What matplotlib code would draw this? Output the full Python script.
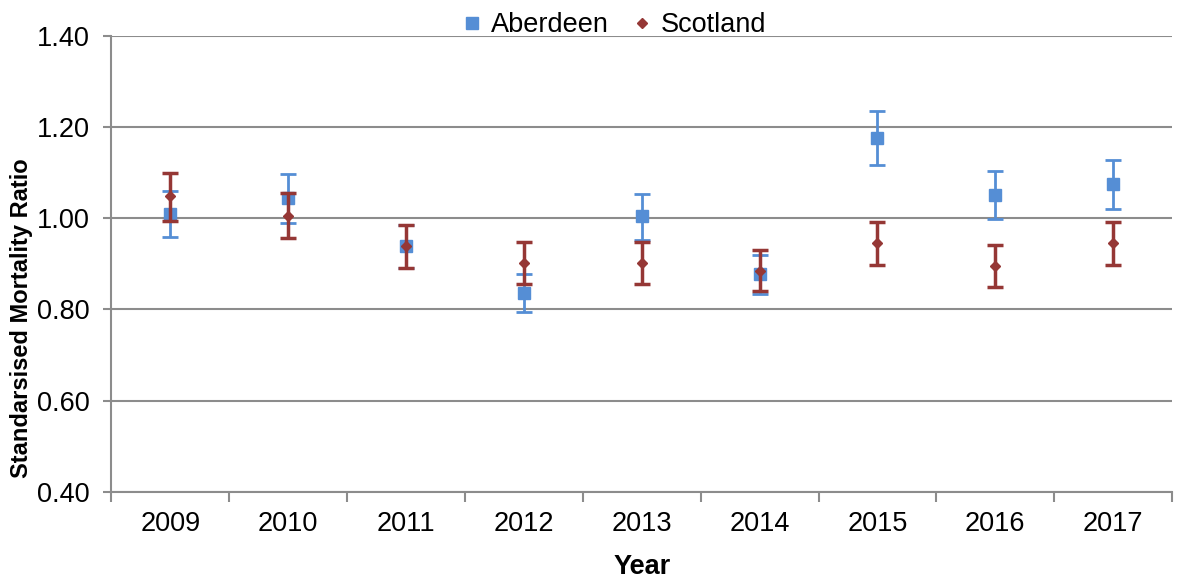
import numpy as np
import matplotlib
matplotlib.use("Agg")
import matplotlib.pyplot as plt

plt.rcParams['font.family'] = ['Liberation Sans', 'DejaVu Sans']

# data
years = ['2009', '2010', '2011', '2012', '2013', '2014', '2015', '2016', '2017']
aberdeen = [1.01, 1.045, 0.94, 0.837, 1.005, 0.878, 1.176, 1.051, 1.075]
aberdeen_low = [0.96, 0.99, 0.892, 0.794, 0.953, 0.833, 1.117, 0.998, 1.021]
aberdeen_high = [1.06, 1.097, 0.986, 0.878, 1.054, 0.92, 1.235, 1.104, 1.127]
scotland = [1.048, 1.005, 0.94, 0.902, 0.903, 0.884, 0.945, 0.896, 0.945]
scotland_low = [0.995, 0.956, 0.892, 0.856, 0.857, 0.84, 0.898, 0.85, 0.898]
scotland_high = [1.10, 1.056, 0.986, 0.948, 0.948, 0.93, 0.993, 0.941, 0.993]

blue = '#558ed5'
red = '#953735'
grid_col = '#8c8c8c'

fig = plt.figure(figsize=(11.84, 5.8), dpi=100)
ax = fig.add_axes([0.094, 0.152, 0.896, 0.786])

x = np.arange(len(years))
ab = np.array(aberdeen)
sc = np.array(scotland)
ab_err = [ab - np.array(aberdeen_low), np.array(aberdeen_high) - ab]
sc_err = [sc - np.array(scotland_low), np.array(scotland_high) - sc]

ax.errorbar(x, ab, yerr=ab_err, fmt='s', color=blue, ecolor=blue, markersize=8,
            capsize=6, capthick=2, elinewidth=2, label='Aberdeen', zorder=3)
ax.errorbar(x, sc, yerr=sc_err, fmt='D', color=red, ecolor=red, markersize=5.5,
            capsize=6, capthick=2.5, elinewidth=2.5, label='Scotland', zorder=4)

ax.set_xlim(-0.5, len(years) - 0.5)
ax.set_ylim(0.40, 1.40)
ax.set_yticks(np.arange(0.4, 1.41, 0.2))
ax.set_yticklabels([f'{v:.2f}' for v in np.arange(0.4, 1.41, 0.2)])
ax.set_xticks(x)
ax.set_xticklabels(years)
ax.set_xticks(np.arange(-0.5, len(years), 1), minor=True)
ax.tick_params(axis='x', which='major', length=0, labelsize=19.5, pad=14)
ax.tick_params(axis='x', which='minor', length=7, color=grid_col, width=1.5)
ax.tick_params(axis='y', length=5.5, color=grid_col, width=1.5, labelsize=19.5, pad=10)

ax.yaxis.grid(True, color=grid_col, linewidth=1.5)
ax.set_axisbelow(True)
for s in ['top', 'right']:
    ax.spines[s].set_visible(False)
for s in ['left', 'bottom']:
    ax.spines[s].set_color(grid_col)
    ax.spines[s].set_linewidth(1.5)

ax.set_ylabel('Standarsised Mortality Ratio', fontsize=17, fontweight='bold')
ax.yaxis.set_label_coords(-0.0735, 0.38)
ax.set_xlabel('Year', fontsize=19.5, fontweight='bold')
ax.xaxis.set_label_coords(0.5, -0.137)

handles, labels = ax.get_legend_handles_labels()
handles = [h[0] for h in handles]
ax.legend(handles, labels, loc='lower left', bbox_to_anchor=(0.33, 0.995), ncol=2,
          frameon=False, fontsize=19.5, handletextpad=0.3, columnspacing=0.8,
          handlelength=0.8, borderaxespad=0, borderpad=0)

fig.savefig('out.png', dpi=100)
